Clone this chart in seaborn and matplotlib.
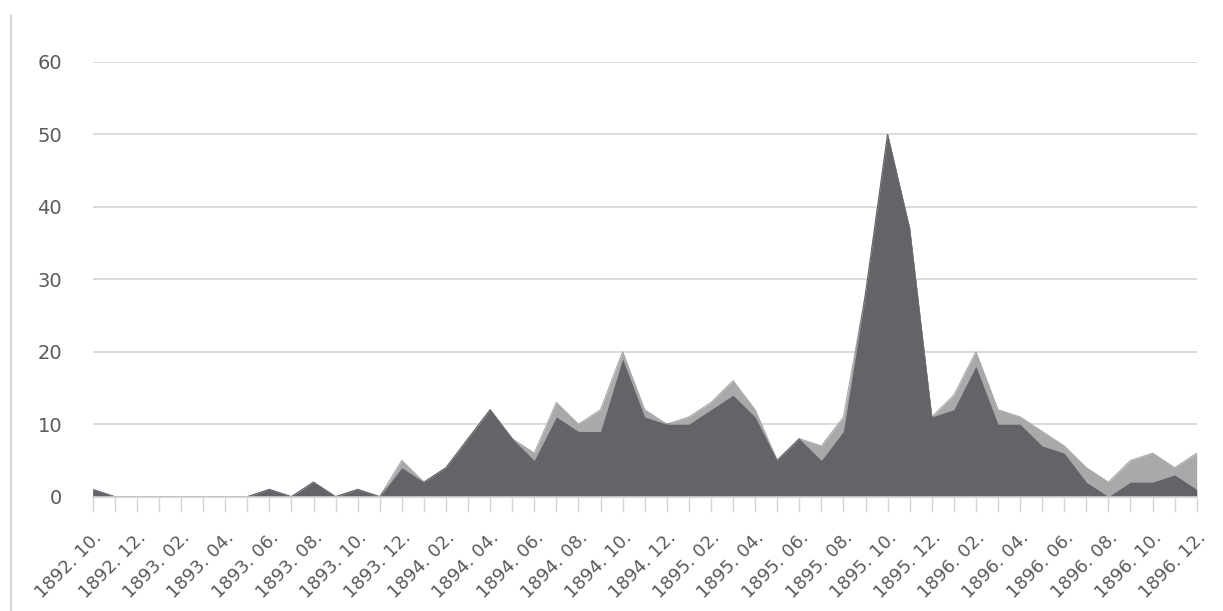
import numpy as np
import pandas as pd
import matplotlib
matplotlib.use('Agg')
import matplotlib.pyplot as plt
import seaborn as sns
from matplotlib.lines import Line2D

# monthly data, 1892.10 - 1896.12
months = pd.period_range('1892-10', '1896-12', freq='M')
labels = [f'{p.year}. {p.month:02d}.' for p in months]

dark = [1, 0, 0, 0, 0, 0, 0, 0, 1, 0,
        2, 0, 1, 0, 4, 2, 4, 8, 12, 8,
        5, 11, 9, 9, 19, 11, 10, 10, 12, 14,
        11, 5, 8, 5, 9, 28, 50, 37, 11, 12,
        18, 10, 10, 7, 6, 2, 0, 2, 2, 3,
        1]
light = [0, 0, 0, 0, 0, 0, 0, 0, 0, 0,
         0, 0, 0, 0, 1, 0, 0, 0, 0, 0,
         1, 2, 1, 3, 1, 1, 0, 1, 1, 2,
         1, 0, 0, 2, 2, 0, 0, 0, 0, 2,
         2, 2, 1, 2, 1, 2, 2, 3, 4, 1,
         5]

df = pd.DataFrame({'month': labels, 'dark': dark, 'light': light})
df['x'] = np.arange(len(df))
df['total'] = df['dark'] + df['light']

sns.set_style('white')
plt.rcParams['font.family'] = ['DejaVu Sans']

fig = plt.figure(figsize=(12.23, 6.11), dpi=100)
ax = fig.add_axes([0.0758, 0.1871, 0.9027, 0.7115])

# stacked areas (edge lines kept under the bottom spine)
sns.lineplot(data=df, x='x', y='total', ax=ax, color='#a9a9ab', lw=0.8, zorder=1)
sns.lineplot(data=df, x='x', y='dark', ax=ax, color='#636468', lw=0.8, zorder=1.2)
ax.fill_between(df['x'], 0, df['total'], color='#a9a9ab', lw=0, zorder=2)
ax.fill_between(df['x'], 0, df['dark'], color='#636468', lw=0, zorder=2.2)

ax.set_xlim(0, len(df) - 1)
ax.set_ylim(0, 60)
ax.set_yticks(range(0, 61, 10))
ax.yaxis.grid(True, color='#d4d4d4', lw=1.2)
ax.set_axisbelow(True)

ax.set_xticks(df['x'][::2])
ax.set_xticklabels(df['month'][::2], rotation=45, ha='right', va='top',
                   rotation_mode='anchor', fontsize=13, color='#5a5a5a')
ax.set_xticks(df['x'], minor=True)
ax.tick_params(axis='x', which='both', direction='out', length=11, width=1,
               color='#d4d4d4', pad=12, bottom=True)
ax.tick_params(axis='y', length=0, pad=22, labelsize=14, labelcolor='#5a5a5a')
ax.set_xlabel('')
ax.set_ylabel('')

for s in ['top', 'right', 'left']:
    ax.spines[s].set_visible(False)
ax.spines['bottom'].set_color('#d4d4d4')
ax.spines['bottom'].set_linewidth(1.2)

# thin border on left edge of the image
fig.add_artist(Line2D([0.009, 0.009], [0, 0.975], transform=fig.transFigure,
                      color='#d9d9d9', lw=1.5))

fig.savefig('out.png', dpi=100)
